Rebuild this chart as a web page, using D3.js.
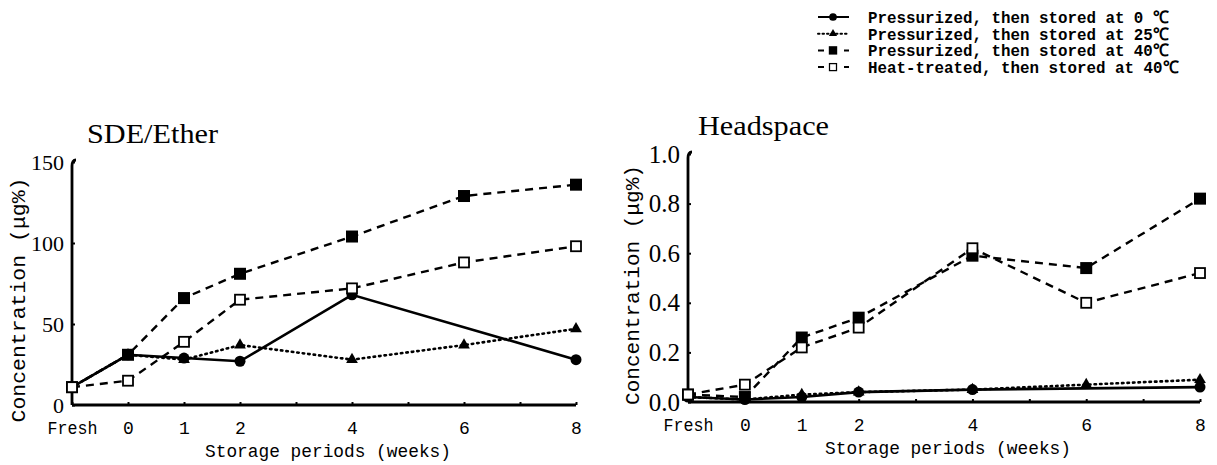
<!DOCTYPE html>
<html>
<head>
<meta charset="utf-8">
<script src="https://cdn.jsdelivr.net/npm/d3@7"></script>
<style>
  body { margin: 0; background: #fff; }
  svg { display: block; }
</style>
</head>
<body>
<div id="chart"></div>
<script>
// x positions: "Fresh" sits one week before week 0
const weekPos = [-1, 0, 1, 2, 4, 6, 8];
const weekLabels = ["Fresh", "0", "1", "2", "4", "6", "8"];

// SDE/Ether (ug%)
const sde0 = [11, 31, 29, 27, 68, null, 28];
const sde25 = [11, 31, 28, 37, 28, 37, 47];
const sde40 = [11, 31, 66, 81, 104, 129, 136];
const sdeHeat = [11, 15, 39, 65, 72, 88, 98];

// Headspace (ug%)
const hs0 = [0.02, 0.01, 0.02, 0.04, 0.05, null, 0.06];
const hs25 = [0.02, 0.01, 0.03, 0.04, 0.05, 0.07, 0.09];
const hs40 = [0.03, 0.02, 0.26, 0.34, 0.59, 0.54, 0.82];
const hsHeat = [0.03, 0.07, 0.22, 0.30, 0.62, 0.40, 0.52];

const sdeTicks = [0, 50, 100, 150];
const hsTicks = [0, 0.2, 0.4, 0.6, 0.8, 1.0];

const legendLabels = [
    "Pressurized, then stored at 0 \u2103",
    "Pressurized, then stored at 25\u2103",
    "Pressurized, then stored at 40\u2103",
    "Heat-treated, then stored at 40\u2103"
];

const width = 1217, height = 465;
const mono = "'Liberation Mono', 'DejaVu Sans Mono', monospace";
const serif = "'Liberation Serif', 'DejaVu Serif', serif";

const styles = [
    { marker: "circle", dash: null, width: 2.6, cap: "butt" },
    { marker: "triangle", dash: "1.5,4", width: 2.6, cap: "round" },
    { marker: "square", dash: "8,6", width: 2.4, cap: "butt" },
    { marker: "open", dash: "8,6", width: 2.4, cap: "butt" }
];

const svg = d3.select("#chart").append("svg")
    .attr("width", width)
    .attr("height", height);

function drawMarker(g, kind, x, y) {
    if (kind === "circle") {
        g.append("circle").attr("cx", x).attr("cy", y).attr("r", 5.5).attr("fill", "#000");
    } else if (kind === "triangle") {
        const s = d3.symbol().type(d3.symbolTriangle).size(60);
        g.append("path").attr("d", s()).attr("transform", `translate(${x},${y})`).attr("fill", "#000");
    } else if (kind === "square") {
        g.append("rect").attr("x", x - 6).attr("y", y - 6).attr("width", 12).attr("height", 12).attr("fill", "#000");
    } else {
        g.append("rect").attr("x", x - 5).attr("y", y - 5).attr("width", 10).attr("height", 10)
            .attr("fill", "#fff").attr("stroke", "#000").attr("stroke-width", 1.8);
    }
}

function panel(cfg) {
    const g = svg.append("g");
    const x = d3.scaleLinear().domain([-1, 8]).range([cfg.x0, cfg.x1]);
    const y = d3.scaleLinear().domain([0, cfg.ymax]).range([cfg.y0, cfg.y1]);

    // x axis, small ticks at every week
    const xAxis = g.append("g")
        .attr("transform", `translate(0,${cfg.y0})`)
        .call(d3.axisBottom(x)
            .tickValues(d3.range(-1, 9))
            .tickSize(-3)
            .tickPadding(16)
            .tickFormat(d => {
                const i = weekPos.indexOf(d);
                return i >= 0 ? weekLabels[i] : "";
            }));
    xAxis.select(".domain").attr("stroke-width", 2.8).attr("d", `M${cfg.x0},0H${cfg.x1}`);
    xAxis.selectAll(".tick line").attr("stroke-width", 2);
    xAxis.selectAll("text").attr("font-family", mono).attr("font-size", 18).attr("fill", "#000");
    xAxis.selectAll("text").filter(d => d === -1)
        .attr("textLength", 50).attr("lengthAdjust", "spacingAndGlyphs");

    // y axis
    const yAxis = g.append("g")
        .attr("transform", `translate(${cfg.x0},0)`)
        .call(d3.axisLeft(y)
            .tickValues(cfg.ticks)
            .tickSize(-3)
            .tickPadding(cfg.tickPad)
            .tickFormat(cfg.fmt));
    yAxis.select(".domain").attr("stroke-width", 2.8)
        .attr("d", `M4,${cfg.y1 - 2}Q0,${cfg.y1 - 2} 0,${cfg.y1 + 4}V${cfg.y0}`)
        .attr("fill", "none");
    yAxis.selectAll(".tick line").attr("stroke-width", 2);
    yAxis.selectAll("text").attr("font-family", serif).attr("font-size", cfg.tickFont).attr("fill", "#000");

    // titles
    g.append("text").attr("x", cfg.titleX).attr("y", cfg.titleY)
        .attr("font-family", serif).attr("font-size", 28)
        .attr("textLength", 131).attr("lengthAdjust", "spacingAndGlyphs")
        .text(cfg.title);
    g.append("text")
        .attr("transform", `translate(${cfg.yLabX},${cfg.yLabY}) rotate(-90)`)
        .attr("text-anchor", "middle")
        .attr("font-family", mono).attr("font-size", 20)
        .attr("textLength", cfg.yLabLen).attr("lengthAdjust", "spacingAndGlyphs")
        .text("Concentration (\u03bcg%)");
    g.append("text")
        .attr("x", (cfg.x0 + cfg.x1) / 2 + 4).attr("y", cfg.y0 + 52)
        .attr("text-anchor", "middle")
        .attr("font-family", mono).attr("font-size", 18)
        .attr("textLength", 246).attr("lengthAdjust", "spacingAndGlyphs")
        .text("Storage periods (weeks)");

    // series
    cfg.series.forEach((vals, si) => {
        const st = styles[si];
        const pts = weekPos.map((w, i) => [w, vals[i]]).filter(p => p[1] != null);
        const line = d3.line().x(p => x(p[0])).y(p => y(p[1]));
        g.append("path").datum(pts)
            .attr("d", line)
            .attr("fill", "none")
            .attr("stroke", "#000")
            .attr("stroke-width", st.width)
            .attr("stroke-linecap", st.cap)
            .attr("stroke-dasharray", st.dash);
        pts.forEach(p => drawMarker(g, st.marker, x(p[0]), y(p[1])));
    });
}

panel({
    x0: 72, x1: 576, y0: 405, y1: 162, ymax: 150,
    ticks: sdeTicks, fmt: d3.format("d"), tickPad: 8, tickFont: 22,
    title: "SDE/Ether", titleX: 87, titleY: 143,
    yLabX: 25, yLabY: 300, yLabLen: 245,
    series: [sde0, sde25, sde40, sdeHeat]
});

panel({
    x0: 688, x1: 1200, y0: 402, y1: 154, ymax: 1.0,
    ticks: hsTicks, fmt: d3.format(".1f"), tickPad: 8, tickFont: 25,
    title: "Headspace", titleX: 698, titleY: 135,
    yLabX: 639, yLabY: 285, yLabLen: 240,
    series: [hs0, hs25, hs40, hsHeat]
});

// legend
const legend = svg.append("g");
legendLabels.forEach((label, i) => {
    const ly = 17 + i * 16.7;
    const st = styles[i];
    legend.append("line")
        .attr("x1", 818).attr("x2", 849).attr("y1", ly).attr("y2", ly)
        .attr("stroke", "#000").attr("stroke-width", 2)
        .attr("stroke-linecap", st.cap)
        .attr("stroke-dasharray", st.dash ? (i === 1 ? "1.5,3" : "6,7") : null);
    const mg = legend.append("g").attr("transform", `translate(833,${ly}) scale(0.7)`);
    drawMarker(mg, st.marker, 0, 0);
    legend.append("text")
        .attr("x", 868).attr("y", ly + 6)
        .attr("font-family", mono).attr("font-size", 17).attr("font-weight", "bold")
        .attr("textLength", label.length * 9.7).attr("lengthAdjust", "spacingAndGlyphs")
        .text(label);
});
</script>
</body>
</html>
